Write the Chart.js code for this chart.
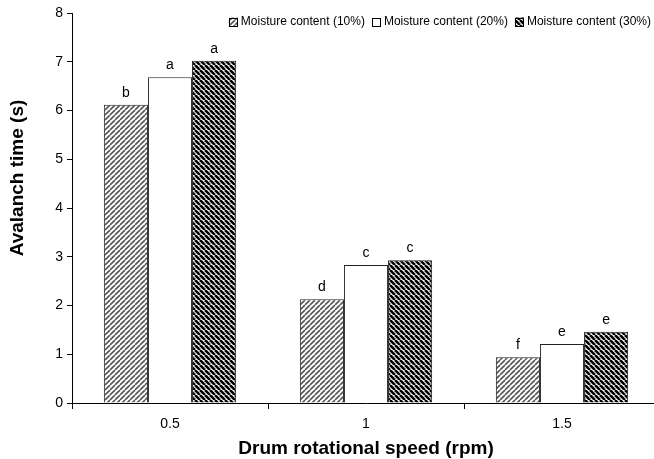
<!DOCTYPE html>
<html><head><meta charset="utf-8">
<script src="https://cdn.jsdelivr.net/npm/chart.js@4.4.1/dist/chart.umd.min.js"></script>
<style>
html,body{margin:0;padding:0;background:#fff;overflow:hidden;}
#wrap{width:654px;height:459px;overflow:hidden;position:relative;background:#fff;}
canvas{display:block;}
</style></head><body>
<div id="wrap"><canvas id="c" width="662" height="459"></canvas></div>
<script>
const categories = ['0.5', '1', '1.5'];
const seriesNames = ['Moisture content (10%)', 'Moisture content (20%)', 'Moisture content (30%)'];
const moisture10 = [6.12, 2.13, 0.94];
const moisture20 = [6.68, 2.83, 1.21];
const moisture30 = [7.02, 2.93, 1.46];
const letters10 = ['b', 'd', 'f'];
const letters20 = ['a', 'c', 'e'];
const letters30 = ['a', 'c', 'e'];
const yMin = 0, yMax = 8, yStep = 1;
const xTitle = 'Drum rotational speed (rpm)';
const yTitle = 'Avalanch time (s)';

const FONT = "'Liberation Sans', Arial, sans-serif";

function makePattern(dir, color, lw, size) {
  const c = document.createElement('canvas');
  c.width = size; c.height = size;
  const g = c.getContext('2d');
  g.fillStyle = '#fff'; g.fillRect(0, 0, size, size);
  g.strokeStyle = color; g.lineWidth = lw;
  for (let k = -1; k <= 1; k++) {
    g.beginPath();
    if (dir === '/') { g.moveTo(k * size, size); g.lineTo(k * size + size, 0); }
    else { g.moveTo(k * size, 0); g.lineTo(k * size + size, size); }
    g.stroke();
  }
  return g.createPattern(c, 'repeat');
}
const pat10 = makePattern('/', '#555', 1.6, 5);
const pat30 = makePattern('\\', '#000', 2.6, 5);

const letterSets = [letters10, letters20, letters30];

const labelPlugin = {
  id: 'barLetters',
  afterDatasetsDraw(chart) {
    const ctx = chart.ctx;
    ctx.save();
    ctx.font = '14px ' + FONT;
    ctx.fillStyle = '#000';
    ctx.textAlign = 'center';
    ctx.textBaseline = 'alphabetic';
    chart.data.datasets.forEach((ds, i) => {
      const meta = chart.getDatasetMeta(i);
      meta.data.forEach((el, j) => {
        ctx.fillText(letterSets[i][j], el.x, el.y - 8);
      });
    });
    ctx.restore();
  }
};

const yTitlePlugin = {
  id: 'yTitle',
  afterDraw(chart) {
    const ctx = chart.ctx;
    ctx.save();
    ctx.font = 'bold 19px ' + FONT;
    ctx.fillStyle = '#000';
    ctx.textAlign = 'center';
    ctx.textBaseline = 'middle';
    ctx.translate(18, 178);
    ctx.rotate(-Math.PI / 2);
    ctx.fillText(yTitle, 0, 0);
    ctx.restore();
  }
};

const legendPlugin = {
  id: 'innerLegend',
  afterDraw(chart) {
    const ctx = chart.ctx;
    ctx.save();
    ctx.font = '12px ' + FONT;
    ctx.textBaseline = 'middle';
    ctx.textAlign = 'left';
    const cy = 22, box = 9, gapBoxText = 3, gapItems = 7;
    const widths = chart.data.datasets.map(ds => ctx.measureText(ds.label).width);
    let total = 0;
    widths.forEach((w, i) => { total += box + gapBoxText + w + (i < widths.length - 1 ? gapItems : 0); });
    let x = 651 - total;
    chart.data.datasets.forEach((ds, i) => {
      ctx.fillStyle = ds.backgroundColor;
      ctx.fillRect(x, cy - box / 2, box, box);
      ctx.strokeStyle = '#000'; ctx.lineWidth = 1;
      ctx.strokeRect(Math.round(x) + 0.5, Math.round(cy - box / 2) + 0.5, box - 1, box - 1);
      ctx.fillStyle = '#000';
      ctx.fillText(ds.label, x + box + gapBoxText, cy);
      x += box + gapBoxText + widths[i] + gapItems;
    });
    ctx.restore();
  }
};

new Chart(document.getElementById('c'), {
  type: 'bar',
  data: {
    labels: categories,
    datasets: [
      { label: seriesNames[0], data: moisture10, backgroundColor: pat10, borderColor: '#222', borderWidth: 1 },
      { label: seriesNames[1], data: moisture20, backgroundColor: '#fff', borderColor: '#222', borderWidth: 1 },
      { label: seriesNames[2], data: moisture30, backgroundColor: pat30, borderColor: '#222', borderWidth: 1 }
    ]
  },
  options: {
    responsive: false,
    animation: false,
    devicePixelRatio: 1,
    layout: { padding: { top: 13, right: 2, left: 0, bottom: 0 } },
    datasets: { bar: { categoryPercentage: 0.675, barPercentage: 1.0 } },
    plugins: { legend: { display: false }, tooltip: { enabled: false } },
    scales: {
      x: {
        offset: true,
        grid: { offset: true, drawOnChartArea: false, drawTicks: true, tickLength: 6, color: '#000', lineWidth: 1 },
        border: { display: true, color: '#000', width: 1 },
        ticks: { font: { family: FONT, size: 14 }, color: '#000', padding: 7 },
        title: { display: true, text: xTitle, font: { family: FONT, size: 19, weight: 'bold' }, color: '#000', padding: { top: 0, bottom: -1 } },
        afterFit: s => { s.height = 56; }
      },
      y: {
        min: yMin, max: yMax,
        ticks: { stepSize: yStep, font: { family: FONT, size: 14 }, color: '#000', padding: 4 },
        grid: { drawOnChartArea: false, drawTicks: true, tickLength: 5, color: '#000', lineWidth: 1 },
        border: { display: true, color: '#000', width: 1 },
        title: { display: false, text: yTitle },
        afterFit: s => { s.width = 72; }
      }
    }
  },
  plugins: [labelPlugin, legendPlugin, yTitlePlugin]
});
</script>
</body></html>
